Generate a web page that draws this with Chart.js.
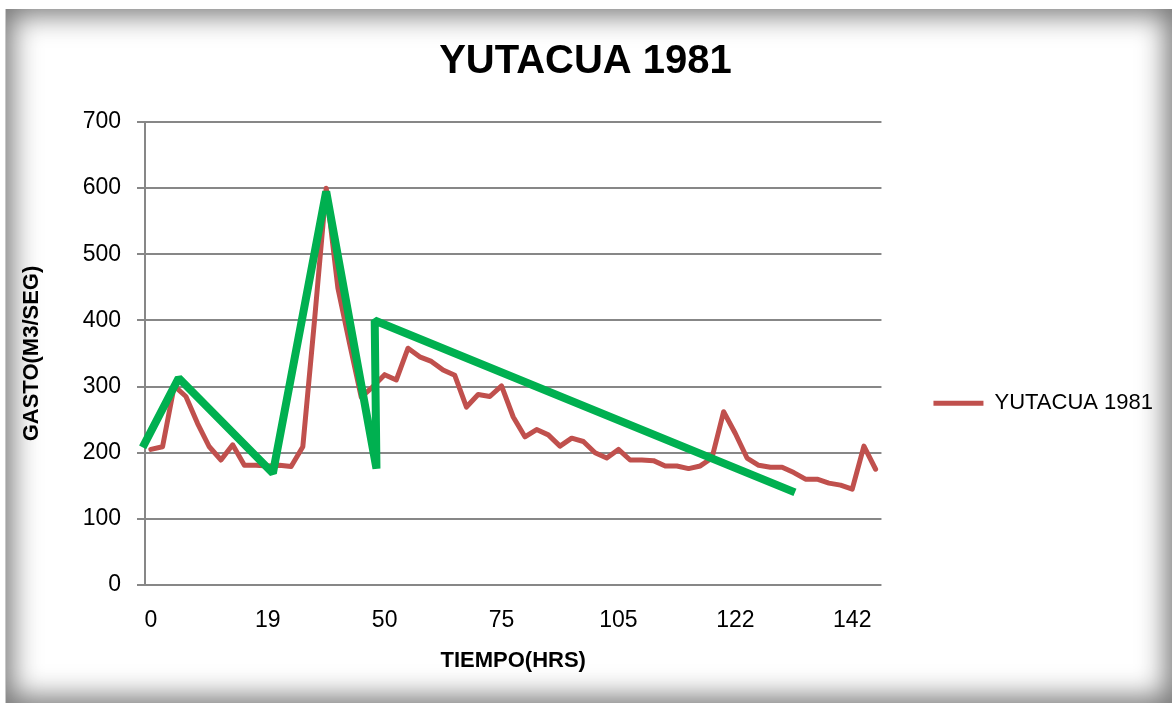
<!DOCTYPE html>
<html>
<head>
<meta charset="utf-8">
<title>YUTACUA 1981</title>
<script src="https://cdn.jsdelivr.net/npm/chart.js@4.4.1/dist/chart.umd.min.js"></script>
<style>
  html, body { margin: 0; padding: 0; background: #fff; }
  #wrap { position: relative; width: 1172px; height: 703px; overflow: hidden; }
  /* soft grey frame around the chart */
  #frame {
    position: absolute; left: 6px; top: 9px; width: 1166px; height: 694px;
    background: #fff;
    box-shadow: inset 0 0 28px 6px rgba(0, 0, 0, 0.55), -1px 0 0 #c8c8c8;
  }
  #chart { position: absolute; left: 0; top: 0; }
</style>
</head>
<body>
<div id="wrap">
  <div id="frame"></div>
  <canvas id="chart" width="1172" height="703"></canvas>
</div>
<script>
// x tick labels (hours), one every 10 readings
const tickLabels = ['0', '19', '50', '75', '105', '122', '142'];

// gasto (m3/seg), one value per reading
const gasto = [
  205, 209, 301, 285, 244, 209, 189, 212, 181, 181,
  180, 181, 179, 209, 400, 600, 449, 365, 284, 300,
  318, 310, 358, 345, 338, 325, 317, 269, 288, 285,
  301, 254, 224, 235, 227, 210, 222, 217, 200, 192,
  205, 189, 189, 188, 180, 180, 176, 180, 192, 262,
  229, 192, 181, 178, 178, 170, 160, 160, 154, 151,
  145, 210, 175
];

// hand-drawn green trace over the series (reading index, gasto)
const trazoX = [-0.7, 2.38, 10.44, 15.0, 19.3, 19.15, 55.1];
const trazoY = [208, 313, 169, 595, 176, 400, 140];

const FONT = "'Liberation Sans', Arial, sans-serif";
const GRID = '#878787';

const serie = gasto.map((v, i) => ({ x: i, y: v }));
const trazo = trazoX.map((x, i) => ({ x: x, y: trazoY[i] }));

new Chart(document.getElementById('chart'), {
  type: 'line',
  data: {
    datasets: [
      {
        label: 'trazo',
        data: trazo,
        borderColor: '#00B050',
        borderWidth: 8,
        borderJoinStyle: 'bevel',
        borderCapStyle: 'butt',
        pointRadius: 0,
        tension: 0,
        clip: false,
        order: 0
      },
      {
        label: 'YUTACUA 1981',
        data: serie,
        borderColor: '#C0504D',
        backgroundColor: '#C0504D',
        borderWidth: 5,
        borderJoinStyle: 'round',
        borderCapStyle: 'round',
        pointRadius: 0,
        tension: 0,
        order: 1
      }
    ]
  },
  options: {
    responsive: false,
    animation: false,
    layout: { padding: { left: 8, right: 9, top: 10, bottom: 0 } },
    plugins: {
      tooltip: { enabled: false },
      title: {
        display: true,
        text: 'YUTACUA 1981',
        color: '#000',
        font: { family: FONT, size: 40, weight: 'bold' },
        padding: { top: 28, bottom: 36 }
      },
      legend: {
        position: 'right',
        title: { display: true, text: ' ', font: { size: 12 }, padding: { top: 79, bottom: 0 } },
        labels: {
          filter: item => item.text !== 'trazo',
          usePointStyle: true,
          pointStyle: 'line',
          pointStyleWidth: 50,
          padding: 52,
          color: '#000',
          font: { family: FONT, size: 22 }
        }
      }
    },
    scales: {
      x: {
        type: 'linear',
        min: -0.5,
        max: 62.5,
        afterFit: s => { s.height = 118; },
        grid: { display: false, drawTicks: false },
        border: { display: false },
        ticks: {
          stepSize: 10,
          includeBounds: false,
          autoSkip: false,
          maxRotation: 0,
          padding: 22,
          color: '#000',
          font: { family: FONT, size: 23 },
          callback: v => (v % 10 === 0 ? tickLabels[v / 10] : '')
        },
        title: {
          display: true,
          text: 'TIEMPO(HRS)',
          color: '#000',
          font: { family: FONT, size: 22, weight: 'bold' },
          padding: { top: 0, bottom: 29 }
        }
      },
      y: {
        min: 0,
        max: 700,
        afterFit: s => { s.width = 137; },
        grid: { color: GRID, lineWidth: 2, tickLength: 8 },
        border: { display: true, color: GRID, width: 2 },
        ticks: {
          stepSize: 100,
          padding: 16,
          color: '#000',
          font: { family: FONT, size: 23 }
        },
        title: {
          display: true,
          text: 'GASTO(M3/SEG)',
          color: '#000',
          font: { family: FONT, size: 22, weight: 'bold' },
          padding: { top: 11, bottom: 0 }
        }
      }
    }
  }
});
</script>
</body>
</html>
